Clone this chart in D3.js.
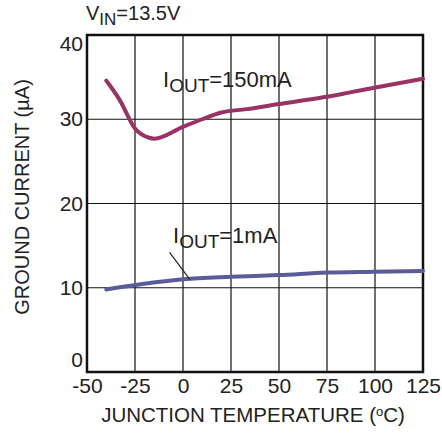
<!DOCTYPE html>
<html>
<head>
<meta charset="utf-8">
<script src="https://cdn.jsdelivr.net/npm/d3@7"></script>
<style>
  body { margin: 0; background: #fff; }
  svg { display: block; font-family: "Liberation Sans", Arial, sans-serif; }
</style>
</head>
<body>
<div id="chart"></div>
<script>
// Data
const xTicks = [-50, -25, 0, 25, 50, 75, 100, 125];
const yTicks = [0, 10, 20, 30, 40];

const temp150 = [-40, -33, -25, -17.6, -15, 0, 10, 20, 33, 50, 73, 85, 101, 125];
const iout150 = [34.6, 32.3, 28.9, 27.8, 27.7, 29.1, 30.0, 30.8, 31.2, 31.8, 32.6, 33.1, 33.8, 34.8];

const temp1 = [-40, -12, 0, 25, 50, 75, 100, 125];
const iout1 = [9.8, 10.7, 11.0, 11.3, 11.5, 11.8, 11.9, 12.0];

const W = 442, H = 435;
const margin = { top: 35, right: 19, bottom: 63, left: 87 };
const iw = W - margin.left - margin.right;
const ih = H - margin.top - margin.bottom;

const svg = d3.select("#chart").append("svg")
    .attr("width", W)
    .attr("height", H);

const g = svg.append("g")
    .attr("transform", `translate(${margin.left},${margin.top})`);

const x = d3.scaleLinear().domain([-50, 125]).range([0, iw]);
const y = d3.scaleLinear().domain([0, 40]).range([ih, 0]);

// grid
g.append("g")
    .selectAll("line")
    .data(xTicks)
    .join("line")
    .attr("x1", d => x(d)).attr("x2", d => x(d))
    .attr("y1", 0).attr("y2", ih)
    .attr("stroke", "#111").attr("stroke-width", 1.2);

g.append("g")
    .selectAll("line")
    .data(yTicks)
    .join("line")
    .attr("x1", 0).attr("x2", iw)
    .attr("y1", d => y(d)).attr("y2", d => y(d))
    .attr("stroke", "#111").attr("stroke-width", 1.2);

// frame
g.append("rect")
    .attr("width", iw).attr("height", ih)
    .attr("fill", "none")
    .attr("stroke", "#111")
    .attr("stroke-width", 2.5);

// tick labels via axes
const xAxis = g.append("g")
    .attr("transform", `translate(0,${ih})`)
    .call(d3.axisBottom(x).tickValues(xTicks).tickFormat(d => String(d)).tickSize(0).tickPadding(6));
const yAxis = g.append("g")
    .call(d3.axisLeft(y).tickValues(yTicks).tickFormat(d => String(d)).tickSize(0).tickPadding(4));
[xAxis, yAxis].forEach(a => {
    a.select(".domain").remove();
    a.selectAll("text")
        .attr("fill", "#222")
        .style("font-size", "21px")
        .style("font-family", "'Liberation Sans', Arial, sans-serif");
});
// end labels sit inside the frame, like the original
yAxis.selectAll("text")
    .attr("dy", d => d === 40 ? "0.72em" : d === 0 ? "-0.25em" : "0.32em");

// curves
const line = d3.line()
    .x(d => x(d[0]))
    .y(d => y(d[1]))
    .curve(d3.curveMonotoneX);

g.append("path")
    .datum(d3.zip(temp150, iout150))
    .attr("d", line)
    .attr("fill", "none")
    .attr("stroke", "#993366")
    .attr("stroke-width", 4)
    .attr("stroke-linecap", "round");

g.append("path")
    .datum(d3.zip(temp1, iout1))
    .attr("d", line)
    .attr("fill", "none")
    .attr("stroke", "#5a5c99")
    .attr("stroke-width", 4)
    .attr("stroke-linecap", "round");

// curve labels
function label(px, py, sub, rest) {
    const t = svg.append("text")
        .attr("x", px).attr("y", py)
        .attr("fill", "#222")
        .style("font-size", "22px");
    t.append("tspan").text("I");
    t.append("tspan").attr("dy", 5).style("font-size", "19px").text(sub);
    t.append("tspan").attr("dy", -5).text(rest);
}
label(163, 87, "OUT", "=150mA");
label(173, 243, "OUT", "=1mA");

// leader line for 1mA label
g.append("line")
    .attr("x1", x(-7)).attr("y1", y(14.2))
    .attr("x2", x(3.5)).attr("y2", y(11.0))
    .attr("stroke", "#222").attr("stroke-width", 1.2);

// condition text
const vin = svg.append("text")
    .attr("x", 86).attr("y", 20)
    .attr("fill", "#222")
    .style("font-size", "20px");
vin.append("tspan").text("V");
vin.append("tspan").attr("dy", 5).style("font-size", "17px").text("IN");
vin.append("tspan").attr("dy", -5).text("=13.5V");

// axis titles
svg.append("text")
    .attr("x", margin.left + iw / 2 - 2)
    .attr("y", 422)
    .attr("text-anchor", "middle")
    .attr("fill", "#222")
    .style("font-size", "20.5px")
    .text("JUNCTION TEMPERATURE (")
    .call(t => {
        t.append("tspan").attr("dy", -6).style("font-size", "13px").text("o");
        t.append("tspan").attr("dy", 6).text("C)");
    });

svg.append("text")
    .attr("transform", `translate(29,197) rotate(-90)`)
    .attr("text-anchor", "middle")
    .attr("fill", "#222")
    .style("font-size", "20px")
    .text("GROUND CURRENT (µA)");
</script>
</body>
</html>
